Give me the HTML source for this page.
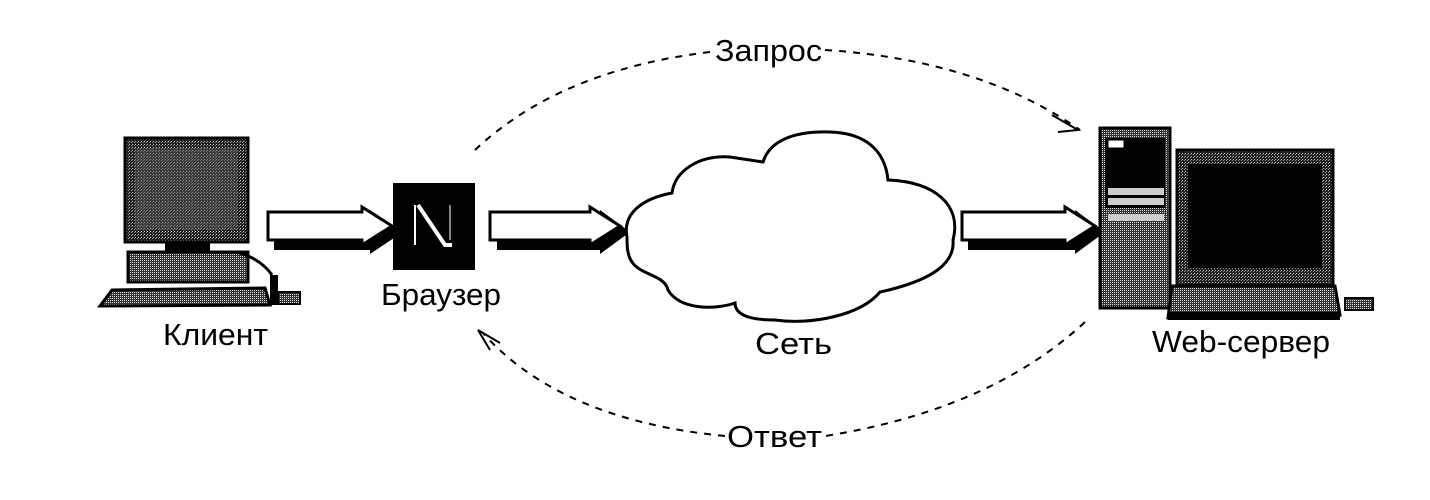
<!DOCTYPE html>
<html><head><meta charset="utf-8"><style>
html,body{margin:0;padding:0;background:#fff;}
svg{display:block;}
text{font-family:"Liberation Sans","DejaVu Sans",sans-serif;fill:#000;}
</style></head><body>
<svg width="1430" height="500" viewBox="0 0 1430 500" xmlns="http://www.w3.org/2000/svg">
<defs>
<pattern id="dith" width="3" height="3" patternUnits="userSpaceOnUse"><rect width="3" height="3" fill="#222"/><rect width="1" height="1" fill="#bbb"/><rect x="2" y="1" width="1" height="1" fill="#888"/></pattern>
<pattern id="dith2" width="2" height="2" patternUnits="userSpaceOnUse"><rect width="2" height="2" fill="#333"/><rect width="1" height="1" fill="#ddd"/></pattern>
</defs>

<!-- Client computer -->
<rect x="125" y="138" width="123" height="104" fill="url(#dith)" stroke="#000" stroke-width="3"/>
<rect x="135" y="148" width="103" height="82" fill="#555" opacity="0.5"/>
<rect x="165" y="242" width="45" height="10" fill="#000"/>
<rect x="128" y="252" width="120" height="30" fill="url(#dith2)" stroke="#000" stroke-width="3"/>
<polygon points="112,290 265,288 270,305 100,306" fill="url(#dith2)" stroke="#000" stroke-width="3"/>
<path d="M236,252 Q260,258 272,275" stroke="#000" stroke-width="3" fill="none"/>
<rect x="270" y="275" width="8" height="30" fill="#000"/>
<rect x="278" y="292" width="22" height="12" fill="url(#dith2)" stroke="#000" stroke-width="2"/>
<text x="163" y="345" font-size="31" textLength="105" lengthAdjust="spacingAndGlyphs">Клиент</text>

<!-- Arrow 1 -->
<polygon points="274,222 370,222 370,210 403,232 370,254 370,250 274,250" fill="#000"/>
<polygon points="268,212 362,212 362,207 392,226 362,245 362,240 268,240" fill="#fff" stroke="#000" stroke-width="3"/>

<!-- Browser -->
<rect x="393" y="183" width="82" height="87" fill="#000"/>
<line x1="415" y1="205" x2="415" y2="245" stroke="#fff" stroke-width="2"/>
<path d="M418,205 L445,245 L452,245" stroke="#fff" stroke-width="4" fill="none"/>
<line x1="450" y1="205" x2="450" y2="240" stroke="#888" stroke-width="2"/>
<text x="381" y="305" font-size="31" textLength="120" lengthAdjust="spacingAndGlyphs">Браузер</text>

<!-- Arrow 2 -->
<polygon points="497,222 600,222 600,210 630,232 600,254 600,250 497,250" fill="#000"/>
<polygon points="490,212 590,212 590,207 620,226 590,245 590,240 490,240" fill="#fff" stroke="#000" stroke-width="3"/>

<!-- Cloud -->
<path d="M627,237 C622,212 645,198 672,193 C675,170 700,155 730,157 L763,162 C770,140 795,131 830,132 C865,133 885,150 888,180 C935,182 962,205 953,240 C955,262 935,280 880,292 C860,316 810,325 775,320 C740,320 735,310 735,303 C715,310 680,310 668,290 C665,275 640,275 632,262 C627,255 627,245 627,237 Z" fill="#fff" stroke="#000" stroke-width="3"/>
<text x="755" y="354" font-size="31" textLength="77" lengthAdjust="spacingAndGlyphs">Сеть</text>

<!-- Arrow 3 -->
<polygon points="968,222 1075,222 1075,210 1105,232 1075,254 1075,250 968,250" fill="#000"/>
<polygon points="962,212 1065,212 1065,207 1095,226 1065,245 1065,240 962,240" fill="#fff" stroke="#000" stroke-width="3"/>

<!-- Server tower -->
<rect x="1100" y="128" width="70" height="180" fill="url(#dith2)" stroke="#000" stroke-width="3"/>
<rect x="1105" y="138" width="60" height="70" fill="#000"/>
<rect x="1108" y="140" width="16" height="8" fill="#fff" stroke="#000"/>
<rect x="1108" y="188" width="56" height="7" fill="#ccc"/>
<rect x="1108" y="198" width="56" height="7" fill="#ccc"/>
<rect x="1108" y="214" width="56" height="7" fill="#ccc"/>
<!-- Server monitor -->
<rect x="1177" y="150" width="156" height="135" fill="url(#dith)" stroke="#000" stroke-width="3"/>
<rect x="1188" y="164" width="134" height="104" fill="#000"/>
<polygon points="1172,286 1335,286 1340,315 1168,318" fill="url(#dith2)" stroke="#000" stroke-width="3"/>
<rect x="1168" y="312" width="172" height="8" fill="#000"/>
<rect x="1345" y="298" width="28" height="12" fill="url(#dith2)" stroke="#000" stroke-width="2"/>
<text x="1152" y="352" font-size="31" textLength="178" lengthAdjust="spacingAndGlyphs">Web-сервер</text>

<!-- Request arc -->
<path d="M475,150 Q560,70 710,52 M825,50 Q980,60 1080,130" stroke="#000" stroke-width="2" stroke-dasharray="7,7" fill="none"/>
<path d="M1052,115 L1078,130 L1058,132" stroke="#000" stroke-width="2" fill="none"/>
<text x="715" y="61" font-size="31" textLength="107" lengthAdjust="spacingAndGlyphs">Запрос</text>

<!-- Response arc -->
<path d="M1085,322 Q990,410 825,436 M725,436 Q560,420 482,332" stroke="#000" stroke-width="2" stroke-dasharray="7,7" fill="none"/>
<path d="M478,330 L500,343 M478,330 L490,350" stroke="#000" stroke-width="2" fill="none"/>
<text x="727" y="447" font-size="31" textLength="95" lengthAdjust="spacingAndGlyphs">Ответ</text>
</svg>
</body></html>
